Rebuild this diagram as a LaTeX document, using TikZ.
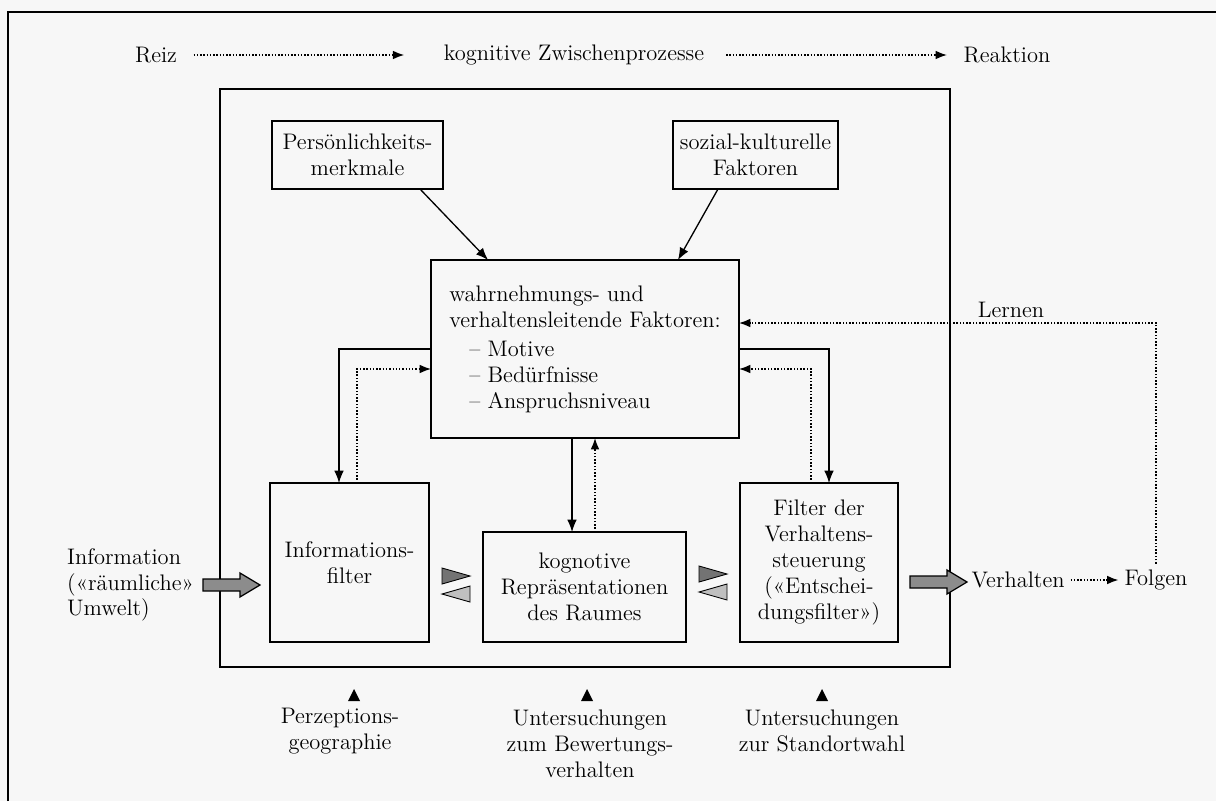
\documentclass[tikz,border=0pt]{standalone}
\usepackage{fontspec}
\usepackage{tikz}
\usetikzlibrary{arrows.meta,positioning}

\begin{document}
\begin{tikzpicture}[x=0.02cm,y=-0.02cm,
  every node/.style={font=\fontsize{12.8}{14.7}\selectfont},
  box/.style={draw,line width=1pt,outer sep=0pt,inner sep=0pt,align=center},
  pfeil/.style={line width=0.75pt,-{Latex[length=7pt,width=5.5pt]}},
  ppfeil/.style={line width=0.85pt,densely dotted,-{Latex[length=6.5pt,width=5pt]}},
  grau/.style={draw,line width=0.7pt,fill=black!45}]
%page
\fill[black!3] (0,0) rectangle (1216,801);
\useasboundingbox (0,0) rectangle (1216,801);
\draw[line width=1.6pt] (8,801) -- (8,12) -- (1216,12);
%top row
\node (reiz) at (156,55) {Reiz};
\node (kogn) at (574,55) {kognitive Zwischenprozesse};
\node (reakt) at (1007,55) {Reaktion};
\draw[ppfeil,shorten <=6pt,shorten >=19pt] (reiz) -- (kogn);
\draw[ppfeil,shorten <=9pt,shorten >=6pt] (kogn) -- (reakt);
%outer frame
\draw[line width=1pt] (220,89) rectangle (950,667);
%upper boxes
\node[box,minimum width=3.42cm,minimum height=1.36cm] (pers) at (357.5,155) {Persönlichkeits-\\merkmale};
\node[box,minimum width=3.3cm,minimum height=1.36cm] (soz) at (755.5,155) {sozial-kulturelle\\Faktoren};
\node[box,minimum width=6.16cm,minimum height=3.56cm,align=left] (fakt) at (585,349)
  {wahrnehmungs- und\\verhaltensleitende Faktoren:\\[2pt]\hspace*{0.4cm}-- Motive\\\hspace*{0.4cm}-- Bedürfnisse\\\hspace*{0.4cm}-- Anspruchsniveau};
\draw[pfeil] ([xshift=-0.46cm]pers.south east) -- ([xshift=1.14cm]fakt.north west);
\draw[pfeil] ([xshift=0.9cm]soz.south west) -- ([xshift=-1.22cm]fakt.north east);
%lower boxes
\node[box,minimum width=3.18cm,minimum height=3.18cm] (ifil) at (349.5,562.5) {Informations-\\filter};
\node[box,minimum width=4.06cm,minimum height=2.2cm] (krep) at (584.5,587) {kognotive\\Repräsentationen\\des Raumes};
\node[box,minimum width=3.16cm,minimum height=3.18cm] (vfil) at (819,562.5) {Filter der\\Verhaltens-\\steuerung\\(«Entschei-\\dungsfilter»)};
%loops between the boxes
\draw[pfeil] (fakt.west) -| ([xshift=-0.21cm]ifil.north);
\draw[ppfeil] ([xshift=0.15cm]ifil.north) |- ([yshift=-0.4cm]fakt.west);
\draw[pfeil] (fakt.east) -| ([xshift=0.2cm]vfil.north);
\draw[ppfeil] ([xshift=-0.16cm]vfil.north) |- ([yshift=-0.4cm]fakt.east);
\draw[pfeil] ([xshift=-0.26cm]fakt.south) -- ([xshift=-0.26cm]fakt.south |- krep.north);
\draw[ppfeil] ([xshift=0.2cm]fakt.south |- krep.north) -- ([xshift=0.2cm]fakt.south);
%double triangles
\draw[line width=0.5pt,fill=black!55] (442,568) -- (470,576) -- (442,584) -- cycle;
\draw[line width=0.5pt,fill=black!25] (470,586) -- (442,594) -- (470,602) -- cycle;
\draw[line width=0.5pt,fill=black!55] (699,566) -- (727,574) -- (699,582) -- cycle;
\draw[line width=0.5pt,fill=black!25] (727,584) -- (699,592) -- (727,600) -- cycle;
%input and output
\node[align=left,anchor=west] (info) at (61,585) {Information\\(«räumliche»\\Umwelt)};
\draw[grau] (203,579) -- (240,579) -- (240,573) -- (260,585) -- (240,597) -- (240,591) -- (203,591) -- cycle;
\node (verh) at (1018,580) {Verhalten};
\node (folg) at (1156,580) {Folgen};
\draw[grau] (910,576) -- (947,576) -- (947,570) -- (967,582) -- (947,594) -- (947,588) -- (910,588) -- cycle;
\draw[ppfeil] (verh) -- (folg);
%learning loop
\node (lern) at (1011,310) {Lernen};
\draw[ppfeil] (folg.north) |- ([yshift=0.52cm]fakt.east);
%research fields
\fill (348,701) -- (354,689) -- (360,701) -- cycle;
\fill (581,701) -- (587,689) -- (593,701) -- cycle;
\fill (816,701) -- (822,689) -- (828,701) -- cycle;
\node[align=center] (perz) at (340,731) {Perzeptions-\\geographie};
\node[align=center] (bew) at (590,744) {Untersuchungen\\zum Bewertungs-\\verhalten};
\node[align=center] (stand) at (822,731) {Untersuchungen\\zur Standortwahl};
\end{tikzpicture}
\end{document}
